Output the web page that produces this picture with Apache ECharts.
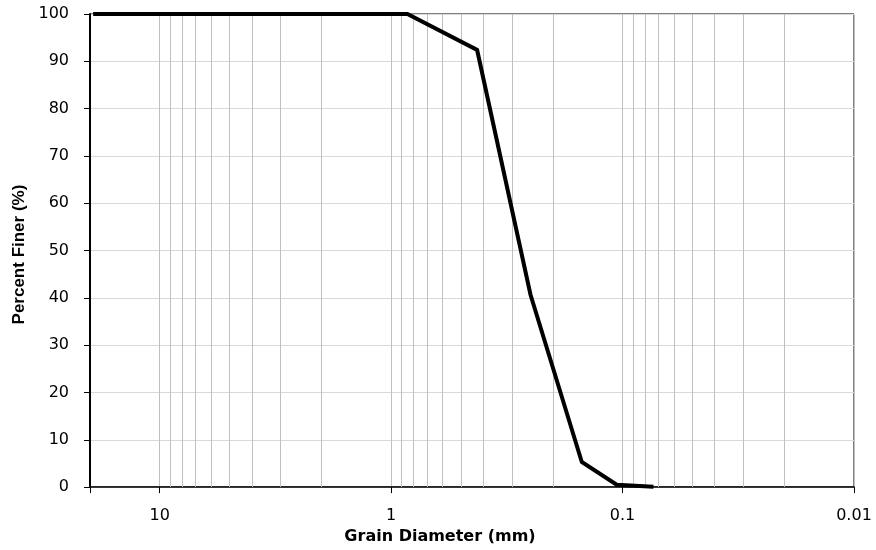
<!DOCTYPE html>
<html>
<head>
<meta charset="utf-8">
<script src="https://cdn.jsdelivr.net/npm/echarts@6/dist/echarts.min.js"></script>
<style>html,body{margin:0;padding:0;background:#fff}#c{width:876px;height:550px}</style>
</head>
<body>
<div id="c"></div>
<script>
// Grain size distribution data
var grainDiameter = [19, 9.5, 4.75, 2.0, 0.85, 0.425, 0.25, 0.15, 0.106, 0.075];
var percentFiner = [100, 100, 100, 100, 100, 92.4, 40.7, 5.3, 0.5, 0.1];
// minor vertical gridline positions (mm)
var minorGrid = [9,8,7,6,5,4,3,2, 0.9,0.8,0.7,0.6,0.5,0.4,0.3,0.2, 0.09,0.08,0.07,0.06,0.05,0.04,0.03,0.02];
var xMin = 0.01, xMax = 20;
var yTicks = [0,10,20,30,40,50,60,70,80,90,100];

var chart = echarts.init(document.getElementById('c'));
var lineData = grainDiameter.map(function (d, i) { return [d, percentFiner[i]]; });
function isPow10(v) {
  var l = Math.log10(v);
  return Math.abs(l - Math.round(l)) < 1e-6;
}
var tickFont = 'DejaVu Sans, Liberation Sans, Arial, sans-serif';
chart.setOption({
  animation: false,
  backgroundColor: '#fff',
  grid: { left: 90, right: 22, top: 14, bottom: 61, show: true, borderColor: '#000', borderWidth: 1 },
  xAxis: {
    type: 'log', logBase: 10, min: xMin, max: xMax, inverse: true,
    name: 'Grain Diameter (mm)', nameLocation: 'middle', nameGap: 39,
    nameTextStyle: { fontFamily: tickFont, fontWeight: 'bold', fontSize: 16, color: '#000', padding: [0, 64, 0, 0] },
    axisLine: { show: true, onZero: false, lineStyle: { color: '#000', width: 1.5 } },
    axisTick: { show: true, length: 6, lineStyle: { color: '#000' } },
    axisLabel: {
      fontFamily: tickFont, fontSize: 16, color: '#000', margin: 21,
      showMinLabel: true, showMaxLabel: true,
      formatter: function (v) { return isPow10(v) ? String(+v.toPrecision(6)) : ''; }
    },
    splitLine: { show: true, lineStyle: { color: '#bfbfbf', width: 1 } },
    minorTick: { show: false }, minorSplitLine: { show: false }
  },
  yAxis: {
    type: 'value', min: yTicks[0], max: yTicks[yTicks.length - 1], interval: 10,
    name: 'Percent Finer (%)', nameLocation: 'middle', nameGap: 55, nameRotate: 90,
    nameTextStyle: { fontFamily: 'Liberation Sans, Arial, sans-serif', fontWeight: 'bold', fontSize: 17, color: '#000', padding: [0, 8, 0, 0] },
    axisLine: { show: true, lineStyle: { color: '#000', width: 2 } },
    axisTick: { show: true, length: 6, lineStyle: { color: '#000' } },
    axisLabel: { fontFamily: tickFont, fontSize: 16, color: '#000', margin: 21 },
    splitLine: { show: true, lineStyle: { color: '#d9d9d9', width: 1 } }
  },
  series: [
    {
      type: 'line', data: [], z: 1, silent: true,
      markLine: {
        silent: true, symbol: 'none', animation: false,
        label: { show: false },
        lineStyle: { color: '#bfbfbf', width: 1, type: 'solid' },
        emphasis: { disabled: true },
        data: minorGrid.map(function (v) { return { xAxis: v }; })
      }
    },
    {
      type: 'line', data: lineData, z: 5, showSymbol: false, symbol: 'none',
      lineStyle: { color: '#000', width: 4, join: 'miter', cap: 'square' }
    }
  ]
});
</script>
</body>
</html>
